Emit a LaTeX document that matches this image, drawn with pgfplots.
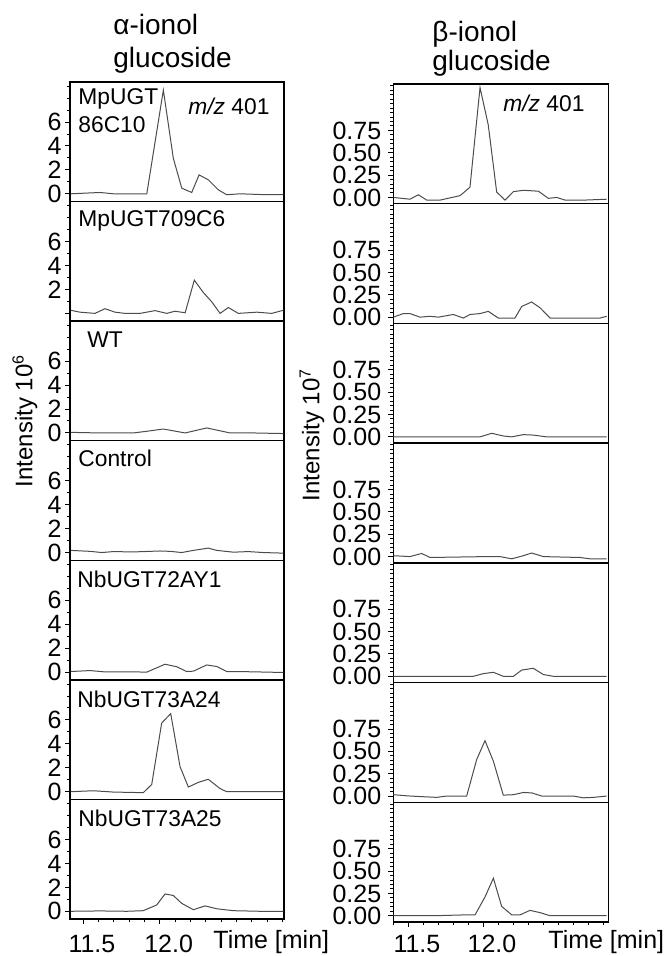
\documentclass[border=0pt]{standalone}
\usepackage{fontspec}
\setmainfont{Liberation Sans}
\usepackage{pgfplots}
\pgfplotsset{compat=1.18}
\begin{document}
\begin{tikzpicture}
\useasboundingbox (0,0) rectangle (333.5pt,478pt);
\pgfplotsset{
 base/.style={scale only axis, anchor=north west, axis line style={line width=0.7pt},
   tick align=outside, ytick pos=left, xtick pos=left,
   tick style={black,line width=0.5pt}, major tick length=2.5pt, minor tick length=1.6pt,
   xtick=\empty, tick label style={font=\fontsize{12.5}{14}\selectfont},
   /pgf/number format/assume math mode=true},
 L/.style={base, width=107pt, height=59.79pt, xmin=11.413, xmax=12.809, ymin=-0.65, ymax=9.35,
   ytick={0,2,4,6}, minor ytick={1,3,5,7,8,9}, yticklabel style={inner xsep=1.5pt}},
 R/.style={base, width=107.5pt, height=59.857pt, xmin=11.4, xmax=12.833, ymin=-0.07, ymax=1.27,
   ytick={0,0.25,0.5,0.75}, yticklabels={0.00,0.25,0.50,0.75}, minor ytick={0.05,0.1,...,1.25}},
 BL/.style={xtick={11.5,12.0}, xticklabels={11.5,12.0}, minor xtick={11.5,11.6,...,12.8},
   xticklabel style={anchor=base, inner sep=0pt, xshift=4.3pt, yshift=-14.3pt}},
 BR/.style={xtick={11.5,12.0}, xticklabels={11.5,12.0}, minor xtick={11.4,11.5,...,12.8},
   xticklabel style={anchor=base, inner sep=0pt, xshift=4.3pt, yshift=-12.8pt}},
 tr/.style={line width=0.5pt, black!70, no marks}
}
% ---------------- left column: alpha-ionol glucoside ----------------
\begin{axis}[L, at={(35pt,437pt)}]
\addplot[tr] coordinates {(11.418,0)(11.609,0.11)(11.696,0)(11.914,0)(12.022,8.67)(12.087,2.97)(12.142,0.47)(12.207,0.11)(12.255,1.58)(12.315,1.17)(12.381,0.33)(12.435,-0.08)(12.522,0)(12.696,-0.08)(12.805,-0.08)};
\end{axis}
\begin{axis}[L, at={(35pt,377.21pt)}, yticklabels={,2,4,6}]
\addplot[tr] coordinates {(11.418,0.26)(11.478,0.1)(11.576,0)(11.641,0.39)(11.707,0.1)(11.772,0)(11.870,0)(11.968,0.23)(12.044,0)(12.098,0.18)(12.164,0.05)(12.224,2.78)(12.283,1.74)(12.338,0.96)(12.392,0)(12.446,0.49)(12.511,0)(12.631,0.1)(12.729,0)(12.805,0.26)};
\end{axis}
\begin{axis}[L, at={(35pt,317.42pt)}]
\addplot[tr] coordinates {(11.418,0.05)(11.609,0)(11.826,0)(11.914,0.14)(12.022,0.33)(12.164,0)(12.305,0.42)(12.457,0)(12.609,0)(12.805,-0.05)};
\end{axis}
\begin{axis}[L, at={(35pt,257.63pt)}]
\addplot[tr] coordinates {(11.418,0.18)(11.544,0.1)(11.620,0)(11.696,0.08)(11.826,0.05)(12.000,0.13)(12.066,0.1)(12.142,0)(12.218,0.18)(12.315,0.37)(12.370,0.18)(12.479,0.03)(12.576,0.08)(12.674,0)(12.805,-0.05)};
\end{axis}
\begin{axis}[L, at={(35pt,197.84pt)}]
\addplot[tr] coordinates {(11.418,0.05)(11.544,0.13)(11.630,0.03)(11.783,0.03)(11.914,0)(12.033,0.66)(12.109,0.45)(12.174,0.05)(12.218,0.08)(12.305,0.6)(12.370,0.47)(12.435,0.05)(12.587,0.03)(12.805,-0.03)};
\end{axis}
\begin{axis}[L, at={(35pt,138.05pt)}]
\addplot[tr] coordinates {(11.418,0)(11.565,0.08)(11.696,-0.03)(11.891,-0.08)(11.946,0.6)(12.011,5.74)(12.070,6.53)(12.131,2.09)(12.185,0.39)(12.250,0.78)(12.315,1.04)(12.392,0.26)(12.435,0)(12.609,0)(12.805,0)};
\end{axis}
\begin{axis}[L, BL, at={(35pt,78.26pt)}]
\addplot[tr] coordinates {(11.418,0)(11.609,0.03)(11.783,0)(11.891,0.05)(11.979,0.53)(12.033,1.45)(12.087,1.32)(12.142,0.66)(12.218,0.13)(12.294,0.45)(12.370,0.21)(12.479,0.05)(12.653,0)(12.805,0)};
\end{axis}
% ---------------- right column: beta-ionol glucoside ----------------
\begin{axis}[R, at={(196.65pt,436pt)}]
\addplot[tr] coordinates {(11.400,0)(11.511,-0.02)(11.567,0.03)(11.623,-0.03)(11.711,-0.03)(11.845,0.02)(11.911,0.115)(11.978,1.23)(12.033,0.81)(12.089,0.06)(12.145,-0.03)(12.200,0.065)(12.267,0.08)(12.367,0.07)(12.433,-0.01)(12.489,0)(12.545,-0.03)(12.667,-0.03)(12.822,-0.02)};
\end{axis}
\begin{axis}[R, at={(196.65pt,376.14pt)}]
\addplot[tr] coordinates {(11.400,0)(11.467,0.04)(11.511,0.04)(11.578,0)(11.645,0.01)(11.700,0)(11.800,0.03)(11.867,-0.01)(11.911,0.03)(11.978,0.04)(12.033,0.065)(12.100,-0.01)(12.211,-0.01)(12.256,0.12)(12.322,0.17)(12.378,0.105)(12.445,-0.01)(12.556,-0.01)(12.778,-0.01)(12.822,0.01)};
\end{axis}
\begin{axis}[R, at={(196.65pt,316.29pt)}]
\addplot[tr] coordinates {(11.400,0)(11.667,0)(11.978,0)(12.056,0.04)(12.133,0.01)(12.189,0)(12.267,0.025)(12.333,0.02)(12.422,0)(12.822,0)};
\end{axis}
\begin{axis}[R, at={(196.65pt,256.43pt)}]
\addplot[tr] coordinates {(11.400,0.01)(11.511,0)(11.589,0.035)(11.645,-0.01)(12.022,0)(12.111,0)(12.189,-0.025)(12.267,0.01)(12.322,0.04)(12.400,0)(12.645,-0.01)(12.711,-0.025)(12.822,-0.025)};
\end{axis}
\begin{axis}[R, at={(196.65pt,196.57pt)}]
\addplot[tr] coordinates {(11.400,0)(11.933,0)(12.000,0.03)(12.067,0.045)(12.133,0)(12.200,0)(12.256,0.07)(12.333,0.09)(12.400,0.02)(12.467,0)(12.822,0)};
\end{axis}
\begin{axis}[R, at={(196.65pt,136.71pt)}]
\addplot[tr] coordinates {(11.400,0.015)(11.511,0)(11.689,-0.015)(11.756,0)(11.889,0)(11.956,0.41)(12.011,0.62)(12.067,0.39)(12.133,0.01)(12.200,0.015)(12.267,0.04)(12.322,0.035)(12.389,0)(12.600,0)(12.667,-0.02)(12.733,-0.015)(12.822,0)};
\end{axis}
\begin{axis}[R, BR, at={(196.65pt,76.86pt)}]
\addplot[tr] coordinates {(11.400,0)(11.667,0)(11.889,0.01)(11.945,0.01)(12.011,0.21)(12.067,0.42)(12.122,0.105)(12.189,0.01)(12.245,0.01)(12.311,0.06)(12.378,0.035)(12.445,0)(12.667,0)(12.822,0)};
\end{axis}
% ---------------- texts ----------------
\begin{scope}[every node/.style={inner sep=0pt}]
\node[anchor=base west, font=\fontsize{14}{16}\selectfont] at (56.5pt,460.5pt) {α-ionol};
\node[anchor=base west, font=\fontsize{14}{16}\selectfont] at (56.5pt,444pt) {glucoside};
\node[anchor=base west, font=\fontsize{14}{16}\selectfont] at (216pt,457pt) {β-ionol};
\node[anchor=base west, font=\fontsize{14}{16}\selectfont] at (216pt,442.5pt) {glucoside};
\begin{scope}[every node/.append style={anchor=base west, font=\fontsize{11.4}{13}\selectfont}]
\node at (39pt,425.5pt) {MpUGT};
\node at (39pt,411.5pt) {86C10};
\node at (94pt,420.5pt) {\textit{m/z} 401};
\node at (251.5pt,422pt) {\textit{m/z} 401};
\node at (39pt,364.5pt) {MpUGT709C6};
\node at (43.5pt,304pt) {WT};
\node at (39pt,244.5pt) {Control};
\node at (38.5pt,184pt) {NbUGT72AY1};
\node at (38.5pt,124pt) {NbUGT73A24};
\node at (39pt,64.5pt) {NbUGT73A25};
\end{scope}
\node[anchor=base west, font=\fontsize{12.5}{14}\selectfont] at (106.5pt,4pt) {Time [min]};
\node[anchor=base west, font=\fontsize{12.5}{14}\selectfont] at (274pt,4pt) {Time [min]};
\node[rotate=90, font=\fontsize{12}{14}\selectfont] at (12.5pt,267.5pt) {Intensity 10\textsuperscript{6}};
\node[rotate=90, font=\fontsize{12}{14}\selectfont] at (156pt,260.5pt) {Intensity 10\textsuperscript{7}};
\end{scope}
\end{tikzpicture}
\end{document}
